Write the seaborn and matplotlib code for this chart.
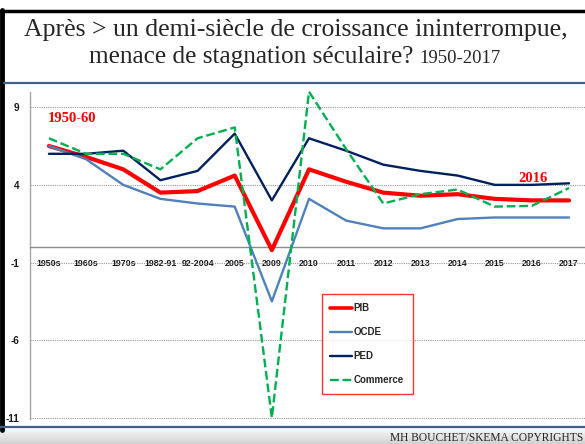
import numpy as np
import matplotlib
matplotlib.use("Agg")
import matplotlib.pyplot as plt
import seaborn as sns
from matplotlib.lines import Line2D

categories = ["1950s", "1960s", "1970s", "1982-91", "92-2004", "2005", "2009", "2010",
              "2011", "2012", "2013", "2014", "2015", "2016", "2017"]
pib = [6.5, 5.8, 5.0, 3.5, 3.6, 4.6, -0.2, 5.0, 4.2, 3.5, 3.3, 3.4, 3.1, 3.0, 3.0]
ocde = [6.5, 5.65, 4.0, 3.1, 2.8, 2.6, -3.5, 3.1, 1.7, 1.2, 1.2, 1.8, 1.9, 1.9, 1.9]
ped = [6.0, 6.0, 6.2, 4.3, 4.9, 7.3, 3.0, 7.0, 6.2, 5.3, 4.9, 4.6, 4.0, 4.0, 4.1]
commerce = [7.0, 6.0, 6.0, 5.0, 7.0, 7.7, -11.0, 10.0, 6.3, 2.8, 3.4, 3.7, 2.6, 2.65, 3.8]
yticks = [9, 4, -1, -6, -11]

sns.set_style("white")
plt.rcParams["axes.unicode_minus"] = False

W, H = 585, 444
fig = plt.figure(figsize=(W / 100, H / 100), dpi=100)

def fx(px):
    return px / W

def fy(py):
    return 1 - py / H

# axes placement
ax_left, ax_right = 30.4, 587.6
ax_top, ax_bot = 92, 418.6
ax = fig.add_axes([fx(ax_left), fy(ax_bot), fx(ax_right - ax_left), (ax_bot - ax_top) / H])
ax.set_facecolor("none")

x = np.arange(len(categories))
series = [("PIB", pib, "#FF0000", 3.0, "-"),
          ("OCDE", ocde, "#4F81BD", 1.7, "-"),
          ("PED", ped, "#002060", 1.7, "-"),
          ("Commerce", commerce, "#00B050", 1.7, "--")]
handles = []
for name, vals, col, lw, ls in series:
    sns.lineplot(x=x, y=vals, ax=ax, color=col, linewidth=lw, linestyle=ls,
                 clip_on=False, zorder=3)
    handles.append(Line2D([], [], color=col, linewidth=lw if name != "PIB" else 2.6,
                          linestyle=ls, label=name))

ax.set_xlim(-0.5, len(categories) - 0.5)
ax.set_ylim(-11.05, 9.98)

# gridlines
ax.set_yticks(yticks)
ax.yaxis.grid(True, linestyle=(0, (1, 1)), color="#9A9A9A", linewidth=0.8)
ax.xaxis.grid(False)
ax.set_axisbelow(True)

for s in ["top", "right"]:
    ax.spines[s].set_visible(False)
ax.spines["left"].set_color("#A6A6A6")
ax.spines["left"].set_linewidth(1.0)
ax.spines["bottom"].set_position(("data", 0))
ax.spines["bottom"].set_color("#8C8C8C")
ax.spines["bottom"].set_linewidth(1.0)

ax.set_xticks(x)
ax.set_xticklabels(categories)
ax.set_xticks(np.arange(-0.5, len(categories), 1.0), minor=True)
ax.tick_params(axis="x", which="major", length=0, pad=8.5)
ax.tick_params(axis="x", which="minor", length=4, color="#8C8C8C", direction="out")
ax.tick_params(axis="y", length=3, color="#A6A6A6", pad=5)
for lab in ax.get_xticklabels():
    lab.set_fontfamily(["Liberation Sans Narrow", "Liberation Sans"])
    lab.set_fontweight("bold")
    lab.set_fontsize(6.4)
    lab.set_color("#1a1a1a")
for lab in ax.get_yticklabels():
    lab.set_fontfamily(["Liberation Sans Narrow", "Liberation Sans"])
    lab.set_fontweight("bold")
    lab.set_fontsize(7.2)
    lab.set_color("#1a1a1a")
ax.set_xlabel("")
ax.set_ylabel("")

# annotations
ax.text(0.62, 8.3, "1950-60", color="#FF0000", fontweight="bold", fontsize=10.5,
        fontfamily="Liberation Serif", ha="center", va="center")
ax.text(13.03, 4.44, "2016", color="#FF0000", fontweight="bold", fontsize=10.5,
        fontfamily="Liberation Serif", ha="center", va="center")

# legend
leg = fig.legend(handles=handles, loc="upper left",
                 bbox_to_anchor=(fx(321.7), fy(294.3)), bbox_transform=fig.transFigure,
                 frameon=True, fancybox=False, handlelength=2.2, handletextpad=0.2,
                 labelspacing=1.45, borderpad=0.9, borderaxespad=0,
                 prop={"family": ["Liberation Sans Narrow", "Liberation Sans"],
                       "weight": "bold", "size": 7})
leg.get_frame().set_edgecolor("#FF0000")
leg.get_frame().set_linewidth(1.0)

# title
fig.text(0.505, fy(30), "Après > un demi-siècle de croissance ininterrompue,",
         fontfamily="Liberation Serif", fontsize=18.5, ha="center", va="center")
fig.text(fx(413), fy(57), "menace de stagnation séculaire?",
         fontfamily="Liberation Serif", fontsize=18.2, ha="right", va="center")
fig.text(fx(419), fy(58.5), "1950-2017",
         fontfamily="Liberation Serif", fontsize=13.5, ha="left", va="center")

# frame decorations
fig.add_artist(Line2D([0, 1], [fy(11), fy(11)], color="black", linewidth=2.5,
                      transform=fig.transFigure))
fig.add_artist(Line2D([fx(2), fx(2)], [fy(10), fy(430)], color="black", linewidth=3.5,
                      transform=fig.transFigure))
fig.add_artist(Line2D([fx(4), 1], [fy(83), fy(83)], color="#41618C", linewidth=1.6,
                      transform=fig.transFigure))

# footer gradient band
fax = fig.add_axes([0, 0, 1, fy(428)])
grad = np.linspace(0, 1, 50).reshape(-1, 1)
fax.imshow(grad, aspect="auto", cmap=matplotlib.colors.LinearSegmentedColormap.from_list(
    "g", ["#FAFAFA", "#D2D2D2"]), extent=[0, 1, 0, 1], origin="upper")
fax.set_axis_off()
fig.add_artist(Line2D([0, 1], [fy(427), fy(427)], color="#41618C", linewidth=1.6,
                      transform=fig.transFigure))
fig.text(fx(583), fy(437.5), "MH BOUCHET/SKEMA COPYRIGHTS", fontfamily="Liberation Serif",
         fontsize=8.3, ha="right", va="center", color="#222222")

fig.savefig("out.png", dpi=100)
